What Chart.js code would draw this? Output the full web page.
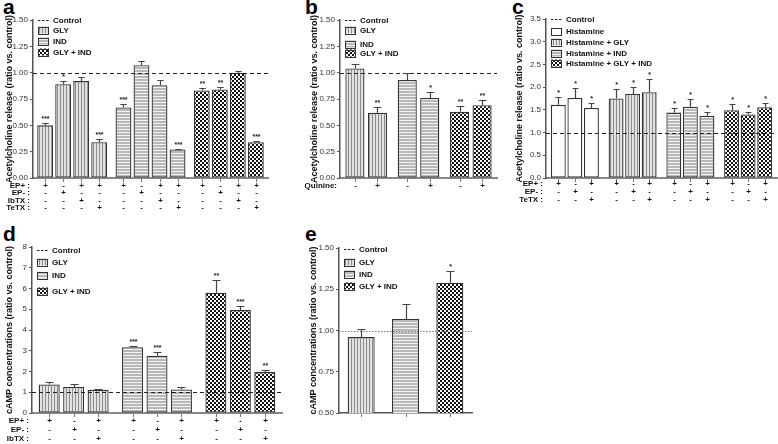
<!DOCTYPE html>
<html><head><meta charset="utf-8">
<script src="https://cdn.jsdelivr.net/npm/chart.js@4.4.1/dist/chart.umd.min.js"></script>
<style>
body{margin:0;background:#fff;width:778px;height:444px;overflow:hidden;position:relative;font-family:"Liberation Sans",Arial,sans-serif}
canvas{position:absolute}
.lbl{position:absolute;font-weight:bold;font-size:21px;line-height:21px;color:#000;font-family:"Liberation Sans",Arial,sans-serif}
</style></head><body>
<div class="lbl" style="left:3px;top:-4px">a</div>
<div class="lbl" style="left:305px;top:-4px">b</div>
<div class="lbl" style="left:512px;top:-4px">c</div>
<div class="lbl" style="left:3px;top:223px">d</div>
<div class="lbl" style="left:305px;top:223px">e</div>
<canvas id="pa" width="270" height="220" style="left:0;top:0"></canvas>
<canvas id="pb" width="230" height="220" style="left:270px;top:0"></canvas>
<canvas id="pc" width="273" height="220" style="left:505px;top:0"></canvas>
<canvas id="pd" width="290" height="224" style="left:0;top:220px"></canvas>
<canvas id="pe" width="180" height="224" style="left:300px;top:220px"></canvas>
<script>
// ---------- DATA ----------
// Panel a: acetylcholine release (ratio vs. control)
const a_gly = [0.50, 0.89, 0.92, 0.34];
const a_gly_sem = [0.02, 0.03, 0.04, 0.03];
const a_gly_sig = ['***', '*', '', '***'];
const a_ind = [0.67, 1.07, 0.88, 0.27];
const a_ind_sem = [0.03, 0.04, 0.05, 0.01];
const a_ind_sig = ['***', '', '', '***'];
const a_both = [0.83, 0.84, 1.00, 0.34];
const a_both_sem = [0.02, 0.02, 0.02, 0.01];
const a_both_sig = ['**', '**', '', '***'];
const a_row_labels = ['EP+ :', 'EP- :', 'IbTX :', 'TeTX :'];
const a_ep_plus = ['+', '-', '+', '+'];
const a_ep_minus = ['-', '+', '-', '-'];
const a_ibtx = ['-', '-', '+', '-'];
const a_tetx = ['-', '-', '-', '+'];
const a_ticks = [0, 0.25, 0.5, 0.75, 1.0, 1.25, 1.5];

// Panel b
const b_gly = [1.04, 0.62];
const b_gly_sem = [0.04, 0.05];
const b_gly_sig = ['', '**'];
const b_ind = [0.93, 0.76];
const b_ind_sem = [0.07, 0.06];
const b_ind_sig = ['', '*'];
const b_both = [0.63, 0.69];
const b_both_sem = [0.05, 0.05];
const b_both_sig = ['**', '**'];
const b_row_labels = ['Quinine:'];
const b_quinine = ['-', '+'];

// Panel c
const c_hist = [1.61, 1.76, 1.54];
const c_hist_sem = [0.18, 0.23, 0.12];
const c_hgly = [1.75, 1.85, 1.89];
const c_hgly_sem = [0.22, 0.16, 0.29];
const c_hind = [1.44, 1.57, 1.37];
const c_hind_sem = [0.11, 0.17, 0.08];
const c_hboth = [1.49, 1.40, 1.56];
const c_hboth_sem = [0.13, 0.06, 0.08];
const c_sig = ['*', '*', '*'];
const c_row_labels = ['EP+ :', 'EP- :', 'TeTX :'];
const c_ep_plus = ['+', '-', '+'];
const c_ep_minus = ['-', '+', '-'];
const c_tetx = ['-', '-', '+'];

// Panel d: cAMP
const d_gly = [1.37, 1.25, 1.12];
const d_gly_sem = [0.10, 0.13, 0.04];
const d_gly_sig = ['', '', ''];
const d_ind = [3.17, 2.76, 1.13];
const d_ind_sem = [0.08, 0.17, 0.12];
const d_ind_sig = ['***', '***', ''];
const d_both = [5.80, 4.96, 1.97];
const d_both_sem = [0.62, 0.20, 0.08];
const d_both_sig = ['**', '***', '**'];
const d_row_labels = ['EP+ :', 'EP- :', 'IbTX :'];
const d_ep_plus = ['+', '-', '+'];
const d_ep_minus = ['-', '+', '-'];
const d_ibtx = ['-', '-', '+'];

// Panel e
const e_groups = ['GLY', 'IND', 'GLY + IND'];
const e_values = [0.96, 1.07, 1.29];
const e_sem = [0.05, 0.09, 0.07];
const e_sig = ['', '', '*'];

const group3 = ['GLY', 'IND', 'GLY + IND'];
const c_groups = ['Histamine', 'Histamine + GLY', 'Histamine + IND', 'Histamine + GLY + IND'];

// ---------- STYLE ----------
const FONT = '"Liberation Sans", Arial, sans-serif';
function makePattern(type) {
  const c = document.createElement('canvas');
  const g = c.getContext('2d');
  if (type === 'v') { c.width = 3; c.height = 1; g.fillStyle = '#e2e2e2'; g.fillRect(0,0,3,1); g.fillStyle = '#8c8c8c'; g.fillRect(0,0,1,1); }
  if (type === 'h') { c.width = 1; c.height = 3; g.fillStyle = '#b8b8b8'; g.fillRect(0,0,1,3); g.fillStyle = '#f2f2f2'; g.fillRect(0,0,1,1); }
  if (type === 'c') { c.width = 4; c.height = 4; g.fillStyle = '#fff'; g.fillRect(0,0,4,4); g.fillStyle = '#111'; g.fillRect(0,0,2,2); g.fillRect(2,2,2,2); }
  return g.createPattern(c, 'repeat');
}
const P_GLY = makePattern('v'), P_IND = makePattern('h'), P_BOTH = makePattern('c');
const P_WHITE = '#ffffff';

const SPECS = {};
const annot = {
  id: 'annot',
  afterDatasetsDraw(chart) {
    const sp = SPECS[chart.canvas.id];
    const ctx = chart.ctx, ca = chart.chartArea, y = chart.scales.y;
    ctx.save();
    // control line
    const cy = Math.round(y.getPixelForValue(1)) + 0.5;
    ctx.strokeStyle = sp.ctrlColor; ctx.lineWidth = sp.ctrlWidth; ctx.setLineDash(sp.ctrlDash);
    ctx.beginPath(); ctx.moveTo(ca.left, cy); ctx.lineTo(ca.right, cy); ctx.stroke();
    ctx.setLineDash([]);
    chart.data.datasets.forEach((ds, di) => {
      chart.getDatasetMeta(di).data.forEach((bar, gi) => {
        const v = ds.data[gi], e = ds.sem[gi], sg = ds.sig[gi];
        const x = Math.round(bar.x) + 0.5;
        const yT = y.getPixelForValue(v), yE = Math.round(y.getPixelForValue(v + e)) + 0.5;
        const cap = Math.min(8, bar.width * 0.4);
        ctx.strokeStyle = '#444'; ctx.lineWidth = 1.2;
        ctx.beginPath(); ctx.moveTo(x, yT); ctx.lineTo(x, yE);
        ctx.moveTo(x - cap / 2, yE); ctx.lineTo(x + cap / 2, yE); ctx.stroke();
        if (sg) {
          ctx.fillStyle = '#222'; ctx.font = 'bold 7px ' + FONT;
          ctx.textAlign = 'center'; ctx.textBaseline = 'bottom';
          ctx.fillText(sg, x, yE - 1);
        }
        // small tick below axis
        ctx.strokeStyle = '#777'; ctx.lineWidth = 1;
        ctx.beginPath(); ctx.moveTo(x, ca.bottom + 1); ctx.lineTo(x, ca.bottom + 4); ctx.stroke();
        // condition table
        ctx.fillStyle = '#111'; ctx.font = 'bold 8px ' + FONT;
        ctx.textAlign = 'center'; ctx.textBaseline = 'middle';
        sp.rows.forEach((r, ri) => ctx.fillText(r[ds.pos], x, ca.bottom + sp.rowOff[ri]));
      });
    });
    // row labels
    ctx.fillStyle = '#111'; ctx.font = 'bold 8px ' + FONT;
    ctx.textAlign = 'right'; ctx.textBaseline = 'middle';
    sp.rowLabels.forEach((t, ri) => ctx.fillText(t, ca.left - 3, ca.bottom + sp.rowOff[ri]));
    // legend
    const lx = ca.left + 5;
    ctx.textAlign = 'left'; ctx.font = 'bold 8px ' + FONT;
    sp.legend.forEach((it, i) => {
      const ly = ca.top + sp.legendOff[i];
      if (it.line) {
        ctx.strokeStyle = '#222'; ctx.lineWidth = 1.2; ctx.setLineDash([2.5, 1.5]);
        ctx.beginPath(); ctx.moveTo(lx, Math.round(ly) + 0.5); ctx.lineTo(lx + 11, Math.round(ly) + 0.5); ctx.stroke();
        ctx.setLineDash([]);
      } else {
        ctx.fillStyle = it.fill; ctx.fillRect(lx, ly - 3.5, 11, 7);
        ctx.strokeStyle = '#333'; ctx.lineWidth = 1; ctx.strokeRect(lx + 0.5, Math.round(ly - 3.5) + 0.5, 10, 7);
      }
      ctx.fillStyle = '#111';
      ctx.fillText(it.text, lx + 15, ly + 0.5);
    });
    ctx.restore();
  }
};

function panel(id, sp) {
  SPECS[id] = sp;
  const nPos = sp.series[0].values.length;
  const datasets = [];
  for (let k = 0; k < nPos; k++) {
    datasets.push({
      data: sp.series.map(s => s.values[k]),
      sem: sp.series.map(s => s.sem[k]),
      sig: sp.series.map(s => s.sig[k]),
      pos: k,
      backgroundColor: sp.series.map(s => s.fill),
      borderColor: '#333', borderWidth: 1.3, borderSkipped: false,
      categoryPercentage: sp.catPct, barPercentage: sp.barPct
    });
  }
  new Chart(document.getElementById(id), {
    type: 'bar',
    data: { labels: sp.groups, datasets },
    options: {
      responsive: false, animation: false, events: [],
      layout: { padding: sp.padding },
      plugins: { legend: { display: false }, tooltip: { enabled: false } },
      scales: {
        x: {
          grid: { display: false }, ticks: { display: false },
          border: { display: true, color: sp.xAxisColor, width: sp.xAxisWidth },
          afterFit(s) { s.height = sp.xHeight; }
        },
        y: {
          min: sp.yMin, max: sp.yMax,
          afterBuildTicks(s) { s.ticks = sp.ticks.map(v => ({ value: v })); },
          ticks: { callback: v => Number(v).toFixed(sp.dec), font: { size: 8, family: FONT }, color: '#333', padding: 2 },
          grid: { drawOnChartArea: false, drawTicks: true, tickLength: 3, color: '#555', lineWidth: 1 },
          border: { display: true, color: '#555', width: 1.5 },
          title: { display: true, text: sp.title, font: { size: 9, weight: 'bold', family: FONT }, color: '#111', padding: { top: 4, bottom: 0 } },
          afterFit(s) { s.width = sp.yWidth; }
        }
      }
    },
    plugins: [annot]
  });
}

const dashed = { ctrlColor: '#222', ctrlWidth: 1.2, ctrlDash: [4, 3] };
const ach = 'Acetylcholine release (ratio vs. control)';
const camp = 'cAMP concentrations (ratio vs. control)';
const legend3 = [{ line: true, text: 'Control' }, { fill: P_GLY, text: 'GLY' }, { fill: P_IND, text: 'IND' }, { fill: P_BOTH, text: 'GLY + IND' }];

panel('pa', Object.assign({
  groups: group3,
  series: [
    { values: a_gly, sem: a_gly_sem, sig: a_gly_sig, fill: P_GLY },
    { values: a_ind, sem: a_ind_sem, sig: a_ind_sig, fill: P_IND },
    { values: a_both, sem: a_both_sem, sig: a_both_sig, fill: P_BOTH }],
  rows: [a_ep_plus, a_ep_minus, a_ibtx, a_tetx], rowLabels: a_row_labels, rowOff: [8, 15, 23, 30],
  legend: legend3, legendOff: [0, 10, 21, 32],
  yMin: 0, yMax: 1.5, ticks: a_ticks, dec: 2, title: ach,
  padding: { left: 0, top: 20, right: 2, bottom: 0 }, yWidth: 33, xHeight: 42,
  catPct: 0.92, barPct: 0.88, xAxisColor: '#888', xAxisWidth: 2
}, dashed));

panel('pb', Object.assign({
  groups: group3,
  series: [
    { values: b_gly, sem: b_gly_sem, sig: b_gly_sig, fill: P_GLY },
    { values: b_ind, sem: b_ind_sem, sig: b_ind_sig, fill: P_IND },
    { values: b_both, sem: b_both_sem, sig: b_both_sig, fill: P_BOTH }],
  rows: [b_quinine], rowLabels: b_row_labels, rowOff: [8],
  legend: legend3, legendOff: [0, 10, 24, 33],
  yMin: 0, yMax: 1.5, ticks: a_ticks, dec: 2, title: ach,
  padding: { left: 35, top: 20, right: 3, bottom: 0 }, yWidth: 35, xHeight: 42,
  catPct: 0.86, barPct: 0.85, xAxisColor: '#888', xAxisWidth: 2
}, dashed));

panel('pc', Object.assign({
  groups: c_groups,
  series: [
    { values: c_hist, sem: c_hist_sem, sig: c_sig, fill: P_WHITE },
    { values: c_hgly, sem: c_hgly_sem, sig: c_sig, fill: P_GLY },
    { values: c_hind, sem: c_hind_sem, sig: c_sig, fill: P_IND },
    { values: c_hboth, sem: c_hboth_sem, sig: c_sig, fill: P_BOTH }],
  rows: [c_ep_plus, c_ep_minus, c_tetx], rowLabels: c_row_labels, rowOff: [6, 14, 22],
  legend: [{ line: true, text: 'Control' }, { fill: P_WHITE, text: 'Histamine' }, { fill: P_GLY, text: 'Histamine + GLY' }, { fill: P_IND, text: 'Histamine + IND' }, { fill: P_BOTH, text: 'Histamine + GLY + IND' }],
  legendOff: [0, 12, 23, 34, 44],
  yMin: 0, yMax: 3.5, ticks: [0, 0.5, 1, 1.5, 2, 2.5, 3, 3.5], dec: 1, title: ach,
  padding: { left: 5, top: 19, right: 1, bottom: 0 }, yWidth: 36, xHeight: 42,
  catPct: 0.86, barPct: 0.9, xAxisColor: '#888', xAxisWidth: 2
}, dashed));

panel('pd', Object.assign({
  groups: group3,
  series: [
    { values: d_gly, sem: d_gly_sem, sig: d_gly_sig, fill: P_GLY },
    { values: d_ind, sem: d_ind_sem, sig: d_ind_sig, fill: P_IND },
    { values: d_both, sem: d_both_sem, sig: d_both_sig, fill: P_BOTH }],
  rows: [d_ep_plus, d_ep_minus, d_ibtx], rowLabels: d_row_labels, rowOff: [8, 17, 26],
  legend: legend3, legendOff: [3, 15, 28, 44],
  yMin: 0, yMax: 8, ticks: [0, 1, 2, 3, 4, 5, 6, 7, 8], dec: 0, title: camp,
  padding: { left: 0, top: 27, right: 8, bottom: 0 }, yWidth: 32, xHeight: 31,
  catPct: 0.88, barPct: 0.86, xAxisColor: '#888', xAxisWidth: 2
}, dashed));

panel('pe', {
  groups: e_groups,
  series: [
    { values: [e_values[0]], sem: [e_sem[0]], sig: [e_sig[0]], fill: P_GLY },
    { values: [e_values[1]], sem: [e_sem[1]], sig: [e_sig[1]], fill: P_IND },
    { values: [e_values[2]], sem: [e_sem[2]], sig: [e_sig[2]], fill: P_BOTH }],
  rows: [], rowLabels: [], rowOff: [],
  legend: legend3, legendOff: [1, 14, 26, 38],
  yMin: 0.5, yMax: 1.5, ticks: [0.5, 0.75, 1.0, 1.25, 1.5], dec: 2, title: camp,
  padding: { left: 4, top: 28, right: 8, bottom: 0 }, yWidth: 35, xHeight: 31,
  catPct: 1, barPct: 0.61, xAxisColor: '#555', xAxisWidth: 1.5,
  ctrlColor: '#777', ctrlWidth: 1, ctrlDash: [1.5, 1.5]
});
</script>
</body></html>
